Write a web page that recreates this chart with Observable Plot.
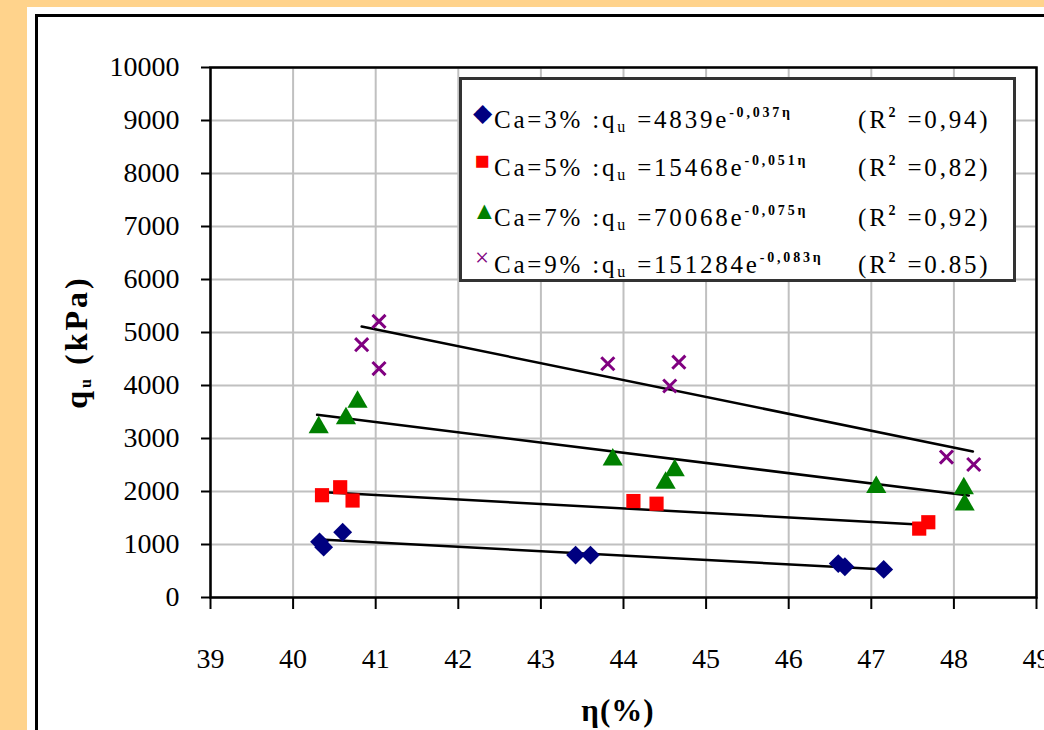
<!DOCTYPE html>
<html><head><meta charset="utf-8">
<script src="https://cdn.jsdelivr.net/npm/d3@7"></script>
<script src="https://cdn.jsdelivr.net/npm/@observablehq/plot@0.6"></script>
<style>
html,body{margin:0;padding:0;background:#FFD38C;}
#wrap{position:relative;width:1044px;height:730px;background:#FFD38C;overflow:hidden;font-family:"Liberation Serif",serif;}
#panel{position:absolute;left:27px;top:7px;width:1100px;height:800px;background:#fff;}
#border{position:absolute;left:35px;top:14px;width:1100px;height:800px;border-left:3px solid #000;border-top:3px solid #000;}
#chart{position:absolute;left:0;top:0;}
#legend{position:absolute;left:459px;top:77px;width:551px;height:199px;border:3px solid #333;background:#fff;font-size:25px;color:#000;letter-spacing:2.8px;}
.row{position:absolute;left:0;height:30px;line-height:30px;white-space:nowrap;}
.mk{position:absolute;left:10px;width:20px;text-align:center;letter-spacing:0;}
.tx{position:absolute;left:32px;}
.r2{position:absolute;left:396px;}
sup{font-size:14px;vertical-align:11px;font-weight:bold;}
sub{font-size:16px;vertical-align:-4px;}
#ylab{position:absolute;left:76px;top:342px;transform:translate(-50%,-50%) rotate(-90deg);font-weight:bold;font-size:32px;letter-spacing:3px;white-space:nowrap;}
#xlab{position:absolute;left:618px;top:711px;transform:translate(-50%,-50%);font-weight:bold;font-size:31px;letter-spacing:1px;white-space:nowrap;}
</style></head>
<body>
<div id="wrap">
<div id="panel"></div>
<div id="border"></div>
<div id="chart"></div>
<div id="legend"></div>
<div id="ylab">q<sub>u</sub> (kPa)</div>
<div id="xlab">η(%)</div>
</div>
<script>
// Data
const seriesNames = ["Ca=3%", "Ca=5%", "Ca=7%", "Ca=9%"];
const ca3_eta = [40.32, 40.37, 40.6, 43.42, 43.6, 46.6, 46.68, 47.15];
const ca3_qu  = [1050, 950, 1230, 800, 800, 640, 580, 530];
const ca5_eta = [40.35, 40.57, 40.72, 44.12, 44.4, 47.58, 47.69];
const ca5_qu  = [1930, 2080, 1830, 1820, 1770, 1300, 1420];
const ca7_eta = [40.31, 40.64, 40.78, 43.87, 44.51, 44.62, 47.06, 48.12, 48.13];
const ca7_qu  = [3210, 3380, 3690, 2600, 2160, 2400, 2080, 2060, 1750];
const ca9_eta = [40.83, 41.04, 41.04, 43.81, 44.56, 44.67, 47.91, 48.24];
const ca9_qu  = [4770, 5210, 4320, 4410, 3990, 4440, 2650, 2510];
// Trend line end points
const trendEtaStart = [40.33, 40.33, 40.29, 40.83];
const trendEtaEnd   = [47.18, 47.68, 48.18, 48.23];
const trendQuStart  = [1094, 1990, 3447, 5113];
const trendQuEnd    = [528, 1370, 1925, 2755];
// Legend text
const legendEq = ["4839e", "15468e", "70068e", "151284e"];
const legendExp = ["-0,037η", "-0,051η", "-0,075η", "-0,083η"];
const legendR2 = ["0,94", "0,82", "0,92", "0.85"];
const xTicks = [39, 40, 41, 42, 43, 44, 45, 46, 47, 48, 49];
const yTicks = [0, 1000, 2000, 3000, 4000, 5000, 6000, 7000, 8000, 9000, 10000];

const colors = ["#000080", "#FF0000", "#008000", "#800080"];
const legendMarks = ["◆", "■", "▲", "×"];

const toPts = (etas, qs, s) => etas.map((e, i) => ({eta: e, qu: qs[i], s}));
const pts = [
  ...toPts(ca3_eta, ca3_qu, 0),
  ...toPts(ca5_eta, ca5_qu, 1),
  ...toPts(ca7_eta, ca7_qu, 2),
  ...toPts(ca9_eta, ca9_qu, 3)
];
const trends = [];
for (let i = 0; i < 4; i++) {
  trends.push({eta: trendEtaStart[i], qu: trendQuStart[i], s: i});
  trends.push({eta: trendEtaEnd[i], qu: trendQuEnd[i], s: i});
}

const font = '"Liberation Serif", serif';
const chart = Plot.plot({
  width: 1044, height: 730,
  marginLeft: 210, marginRight: 8, marginTop: 67, marginBottom: 133,
  style: {background: "transparent", fontFamily: font, fontSize: "28px", color: "#000", overflow: "visible"},
  x: {domain: [39, 49], ticks: xTicks, label: null},
  y: {domain: [0, 10000], ticks: yTicks, label: null},
  marks: [
    Plot.gridX(xTicks, {stroke: "#c0c0c0", strokeOpacity: 1, strokeWidth: 2}),
    Plot.gridY(yTicks, {stroke: "#c0c0c0", strokeOpacity: 1, strokeWidth: 2}),
    Plot.frame({stroke: "#000", strokeWidth: 2.5}),
    Plot.axisX(xTicks, {tickSize: 12, tickPadding: 39, tickFormat: d => String(d), stroke: "#000", strokeWidth: 2, fontSize: 28}),
    Plot.axisY(yTicks, {tickSize: 9, tickPadding: 22, tickFormat: d => String(d), stroke: "#000", strokeWidth: 2, fontSize: 28}),
    Plot.line(trends, {x: "eta", y: "qu", z: "s", stroke: "#000", strokeWidth: 2.5}),
    Plot.dot(pts.filter(d => d.s === 0), {x: "eta", y: "qu", symbol: "diamond2", r: 8.5, fill: colors[0]}),
    Plot.dot(pts.filter(d => d.s === 1), {x: "eta", y: "qu", symbol: "square", r: 8, fill: colors[1]}),
    Plot.dot(pts.filter(d => d.s === 2), {x: "eta", y: "qu", symbol: "triangle", r: 7.5, fill: colors[2]}),
    Plot.dot(pts.filter(d => d.s === 3), {x: "eta", y: "qu", symbol: "times", r: 6, stroke: colors[3], strokeWidth: 3})
  ]
});
document.getElementById("chart").appendChild(chart);

const lg = document.getElementById("legend");
const rowTops = [18, 66, 116, 163];
seriesNames.forEach((name, i) => {
  const row = document.createElement("div");
  row.className = "row";
  row.style.top = rowTops[i] + "px";
  row.style.width = "551px";
  row.innerHTML = `<span class="mk" style="color:${colors[i]}">${legendMarks[i]}</span>` +
    `<span class="tx">${name} :q<sub>u</sub> =${legendEq[i]}<sup>${legendExp[i]}</sup></span>` +
    `<span class="r2">(R<sup>2</sup> =${legendR2[i]})</span>`;
  lg.appendChild(row);
});
</script>
</body></html>
